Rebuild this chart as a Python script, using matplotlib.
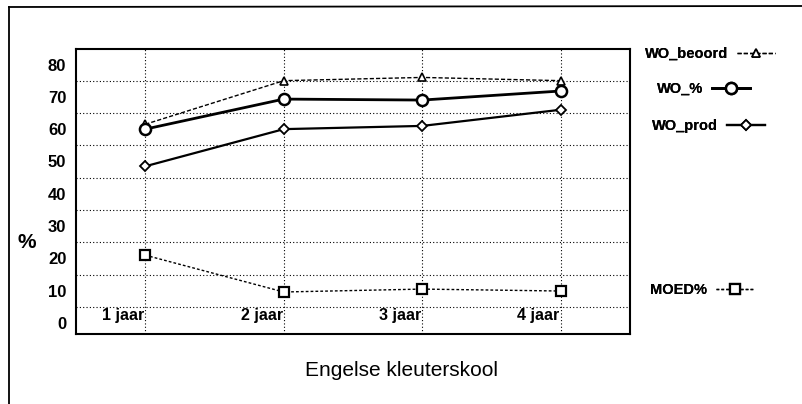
import matplotlib
matplotlib.use("Agg")
import matplotlib.pyplot as plt
from matplotlib.lines import Line2D
import numpy as np

categories = ["1 jaar", "2 jaar", "3 jaar", "4 jaar"]
wo_beoord = [61.5, 75.0, 76.0, 75.0]
wo_pct = [60.0, 69.3, 69.0, 71.8]
wo_prod = [48.5, 60.0, 61.0, 66.0]
moed_pct = [21.0, 9.6, 10.5, 9.9]
yticks = [0, 10, 20, 30, 40, 50, 60, 70, 80]
ygrid = [5, 15, 25, 35, 45, 55, 65, 75]

plt.rcParams['font.family'] = ['Liberation Sans', 'DejaVu Sans']

fig = plt.figure(figsize=(8.03, 4.04), dpi=100)
ax = fig.add_axes([76/803, 1-334/404, (630-76)/803, (334-49)/404])

x = np.arange(len(categories))
l1, = ax.plot(x, wo_beoord, color='black', lw=1.0, ls=(0, (3, 1.5)), marker='^',
              ms=6, mfc='white', mec='black', mew=1.2, label='WO_beoord')
l2, = ax.plot(x, wo_pct, color='black', lw=2.0, ls='-', marker='o',
              ms=8, mfc='white', mec='black', mew=1.8, label='WO_%')
l3, = ax.plot(x, wo_prod, color='black', lw=1.6, ls='-', marker='D',
              ms=5, mfc='white', mec='black', mew=1.3, label='WO_prod')
l4, = ax.plot(x, moed_pct, color='black', lw=1.0, ls=(0, (2, 1.5)), marker='s',
              ms=7, mfc='white', mec='black', mew=1.6, label='MOED%')

ax.set_xlim(-0.5, 3.5)
ax.set_ylim(-3.4, 84.8)
ax.set_yticks(yticks)
ax.set_yticks(ygrid, minor=True)
ax.set_xticks(x)
ax.set_xticklabels([])
ax.tick_params(axis='both', which='both', length=0)
ax.tick_params(axis='y', pad=7, labelsize=12)
for lab in ax.get_yticklabels():
    lab.set_fontweight('bold')
ax.grid(True, which='minor', axis='y', color='black', ls=(0, (1, 2)), lw=0.8)
ax.grid(True, which='major', axis='x', color='black', ls=(0, (1, 2)), lw=0.8)

for i, c in enumerate(categories):
    ax.text(i - 0.16, 2.2, c, ha='center', va='center', fontsize=11.5,
            fontweight='bold')

for s in ax.spines.values():
    s.set_linewidth(1.5)

ax.set_ylabel('%', fontsize=15, fontweight='bold', rotation=0, va='center',
              ha='center')
ax.yaxis.set_label_coords((27-76)/554, (334-243)/285)
fig.text(402/803, 1-370/404, 'Engelse kleuterskool', ha='center', va='center',
         fontsize=15)

positions = [(645, 54), (657, 89), (652, 126), (650, 290)]
for h, (px, py) in zip([l1, l2, l3, l4], positions):
    leg = fig.legend(handles=[h], loc='center left',
                     bbox_to_anchor=(px/803, 1-py/404), markerfirst=False,
                     frameon=False, borderpad=0, borderaxespad=0,
                     handlelength=2.6, handletextpad=0.6,
                     prop={'size': 10.5, 'weight': 'bold'})
    fig.add_artist(leg)

fig.add_artist(Line2D([9/803, 9/803], [0, 1-7/404], transform=fig.transFigure,
                      color='black', lw=1.3))
fig.add_artist(Line2D([9/803, 1], [1-7/404, 1-6/404], transform=fig.transFigure,
                      color='black', lw=1.3))

fig.savefig('out.png', dpi=100)
